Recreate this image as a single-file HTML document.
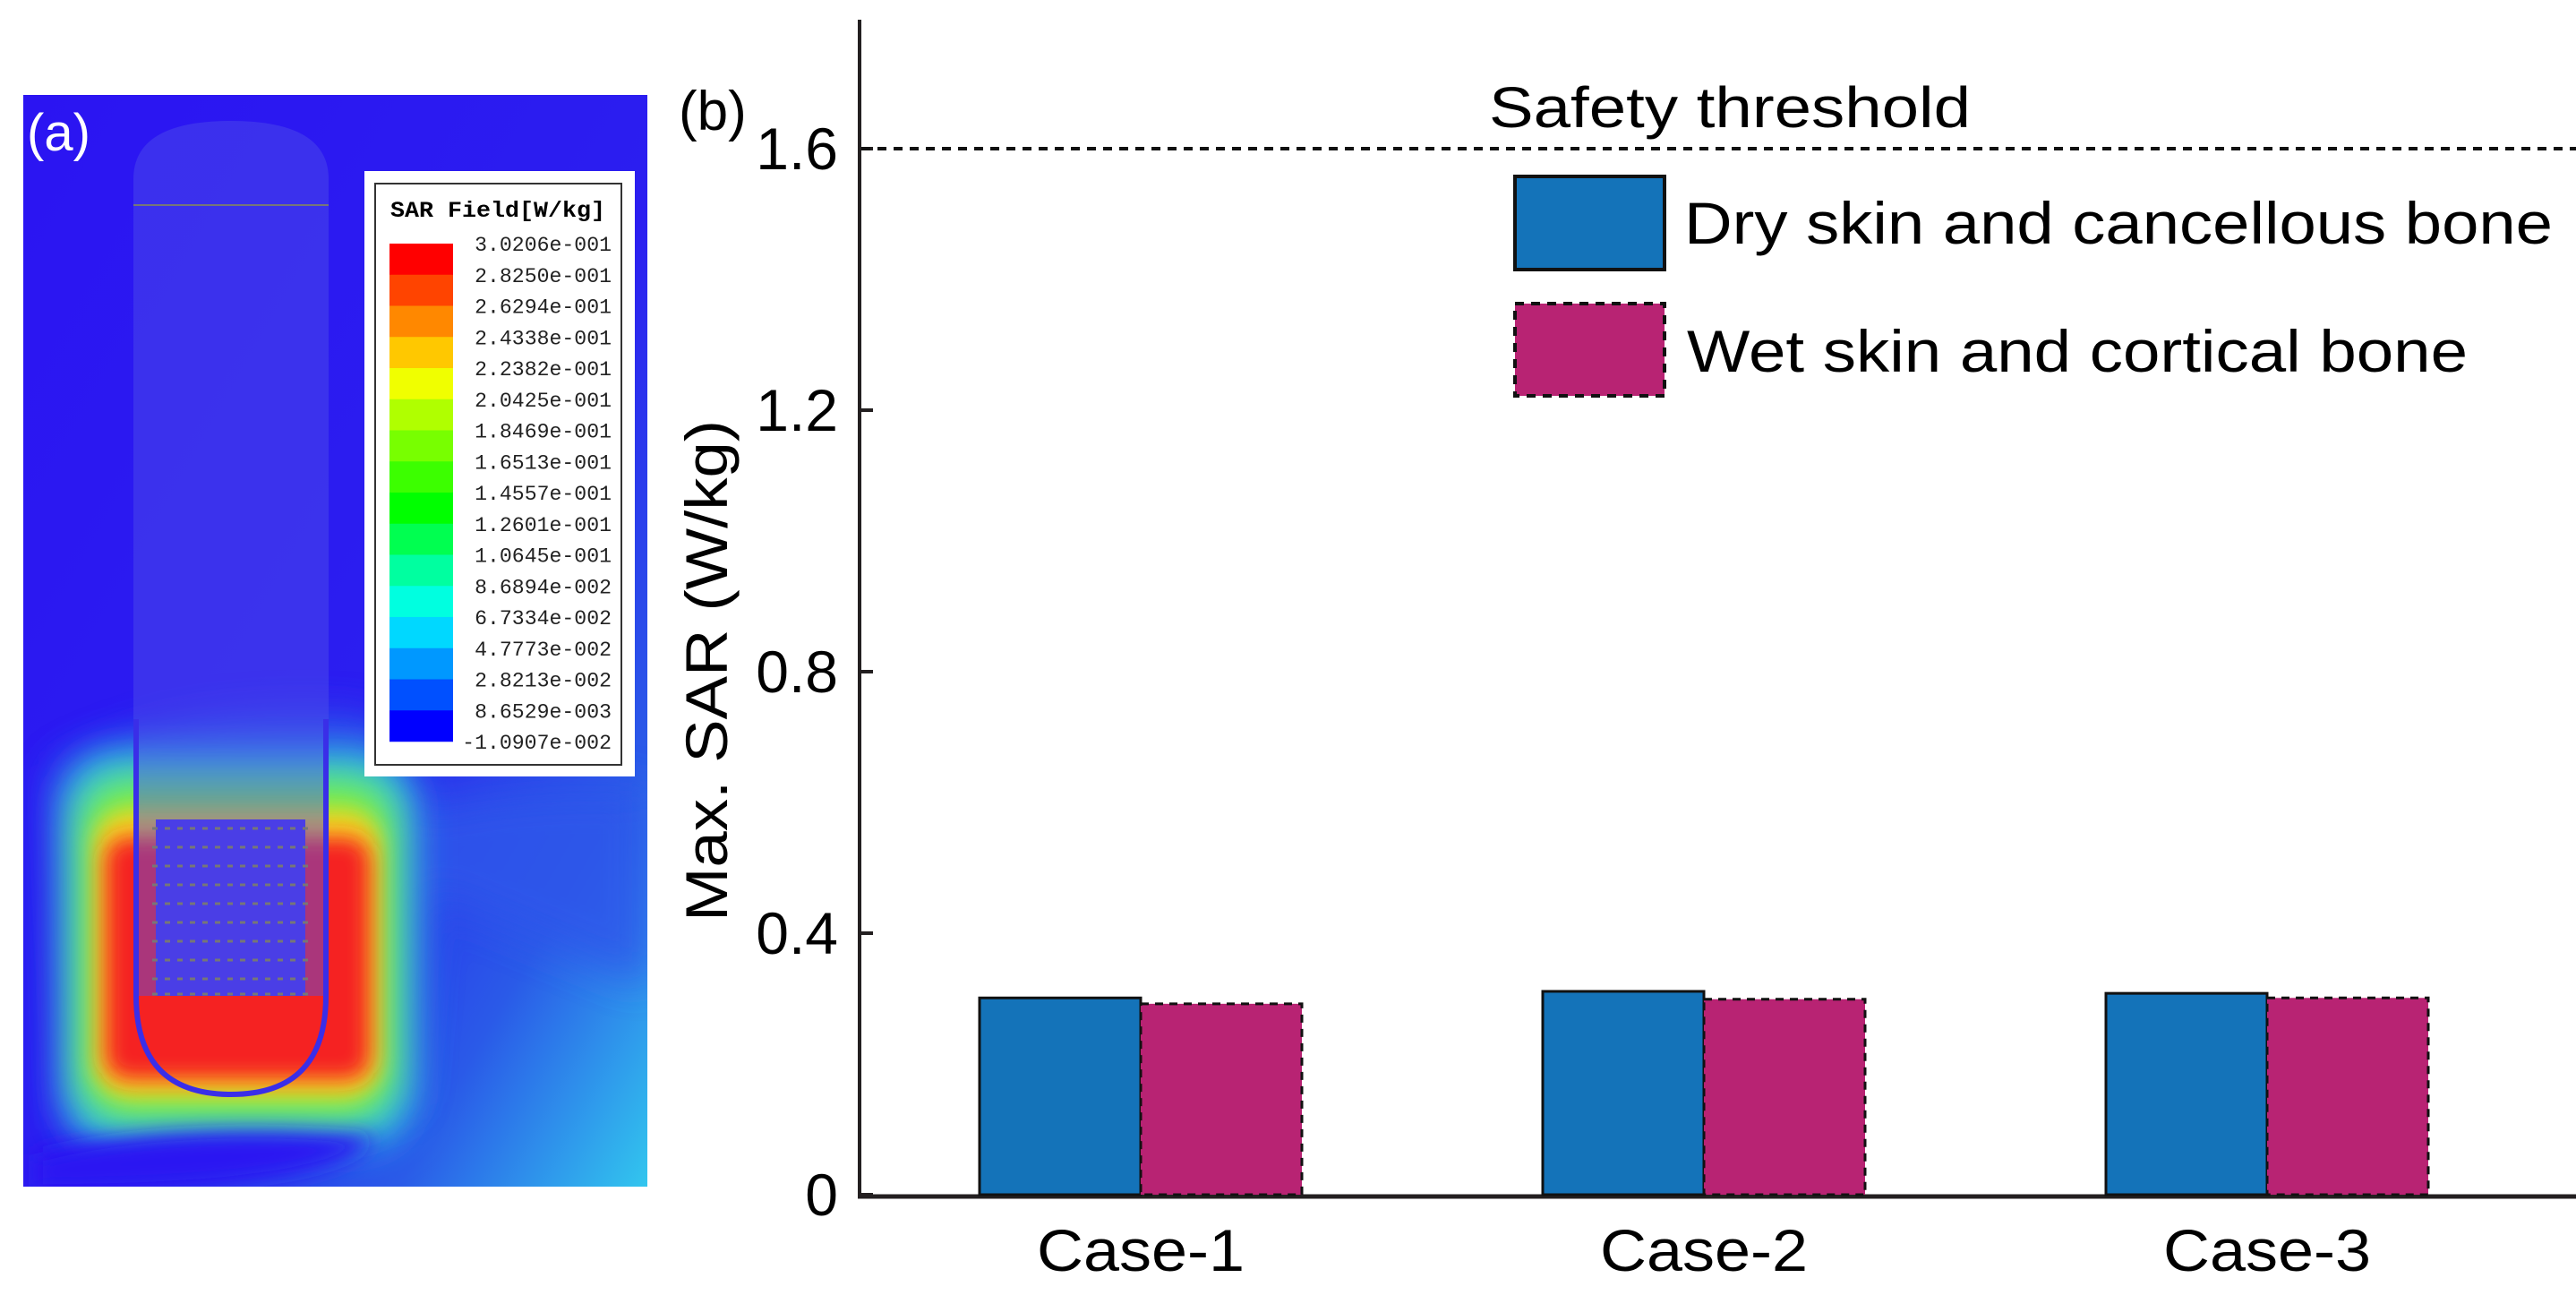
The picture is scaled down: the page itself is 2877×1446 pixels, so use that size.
<!DOCTYPE html>
<html><head><meta charset="utf-8"><style>
html,body{margin:0;padding:0;background:#fff;width:2877px;height:1446px;overflow:hidden}
svg{display:block}
text{font-family:"Liberation Sans",sans-serif}
text.mono{font-family:"Liberation Mono",monospace}
</style></head><body>
<svg id="fig" width="2877" height="1446" viewBox="0 0 2877 1446" xmlns="http://www.w3.org/2000/svg">
<defs>
<linearGradient id="bg" x1="0" y1="0" x2="1" y2="1">
<stop offset="0" stop-color="#2b14f2"/><stop offset="0.55" stop-color="#2b1ef0"/><stop offset="0.8" stop-color="#2a5ae8"/><stop offset="1" stop-color="#32c6ee"/></linearGradient>
<filter id="b1" x="-50%" y="-50%" width="200%" height="200%"><feGaussianBlur stdDeviation="22"/></filter>
<filter id="b2" x="-50%" y="-50%" width="200%" height="200%"><feGaussianBlur stdDeviation="12"/></filter>
<clipPath id="pc"><rect x="26" y="106" width="697" height="1219"/></clipPath>
</defs>

<g clip-path="url(#pc)">
<rect x="26" y="106" width="697" height="1219" fill="url(#bg)"/>
<path d="M60 860 Q200 780 420 800 L470 900 Q600 870 723 880 L723 1100 Q600 1050 480 1000 L460 1230 Q300 1300 80 1260 Z" fill="#2e56ea" filter="url(#b1)" opacity="0.8"/>
<rect x="70" y="840" width="390" height="440" rx="60" fill="#29c9e8" filter="url(#b1)"/>
<rect x="90" y="870" width="350" height="380" rx="50" fill="#7ef040" filter="url(#b1)"/>
<rect x="105" y="905" width="320" height="320" rx="40" fill="#f7d020" filter="url(#b2)"/>
<rect x="118" y="935" width="295" height="270" rx="25" fill="#f52222" filter="url(#b2)"/>
<path d="M40 1290 Q200 1250 420 1270 Q380 1330 40 1330 Z" fill="#2b14f2" filter="url(#b2)"/>
<path d="M149 229 L149 200 Q149 135 258 135 Q367 135 367 200 L367 1112 L149 1112 Z" fill="#5050e8" opacity="0.45"/>
<line x1="149" y1="229" x2="367" y2="229" stroke="#777" stroke-width="2"/>
<path d="M152 803 L152 1112 Q152 1222 258 1222 Q364 1222 364 1112 L364 803" fill="none" stroke="#3a2ee8" stroke-width="6"/>
<rect x="174" y="915" width="167" height="197" fill="#4a3ee6"/>
<g stroke="#777" stroke-width="3" stroke-dasharray="6 8">
<line x1="170" y1="925" x2="346" y2="925"/><line x1="170" y1="946" x2="346" y2="946"/><line x1="170" y1="967" x2="346" y2="967"/><line x1="170" y1="988" x2="346" y2="988"/><line x1="170" y1="1009" x2="346" y2="1009"/><line x1="170" y1="1030" x2="346" y2="1030"/><line x1="170" y1="1051" x2="346" y2="1051"/><line x1="170" y1="1072" x2="346" y2="1072"/><line x1="170" y1="1093" x2="346" y2="1093"/><line x1="170" y1="1110" x2="346" y2="1110"/>
</g>
<text x="30" y="168" font-size="58" fill="#fff">(a)</text>
<g>
<rect x="407" y="191" width="302" height="676" fill="#fff"/>
<rect x="419" y="205" width="275" height="649" fill="none" stroke="#333" stroke-width="2"/>
<text class="mono" x="436" y="242" font-size="25" font-weight="bold" textLength="240" lengthAdjust="spacingAndGlyphs">SAR Field[W/kg]</text>
<g id="swatches"></g>
<g id="slabels"></g>
</g>
</g>

<g>
<text x="758" y="145" font-size="62">(b)</text>
<line x1="960" y1="22" x2="960" y2="1337" stroke="#231f20" stroke-width="4"/>
<line x1="958" y1="1336" x2="2877" y2="1336" stroke="#231f20" stroke-width="5"/>
<g id="yticks"></g>
<g id="bars"></g>
<g id="xlabels"></g>
<line id="thresh" x1="962" x2="2877" stroke="#111" stroke-width="4" stroke-dasharray="10 8"/>
<text x="1932" y="142" font-size="64" text-anchor="middle" textLength="538" lengthAdjust="spacingAndGlyphs">Safety threshold</text>
<text transform="translate(812,749) rotate(-90)" font-size="66" text-anchor="middle" textLength="560" lengthAdjust="spacingAndGlyphs">Max. SAR (W/kg)</text>
<g>
<rect x="1692" y="197" width="167" height="104" fill="#1473b9" stroke="#111" stroke-width="4"/>
<text x="1881" y="272" font-size="66" textLength="970" lengthAdjust="spacingAndGlyphs">Dry skin and cancellous bone</text>
<rect x="1692" y="339" width="167" height="103" fill="#b82373" stroke="#111" stroke-width="4" stroke-dasharray="10 8"/>
<text x="1884" y="415" font-size="66" textLength="872" lengthAdjust="spacingAndGlyphs">Wet skin and cortical bone</text>
</g>
</g>
</svg>
<script>
const categories = ["Case-1","Case-2","Case-3"];
const dryValues = [0.301, 0.311, 0.308];
const wetValues = [0.292, 0.299, 0.301];
const yTickValues = [0, 0.4, 0.8, 1.2, 1.6];
const yTickLabels = ["0","0.4","0.8","1.2","1.6"];
const threshold = 1.6;
const scaleColors = ["#ff0000","#ff4400","#ff8800","#ffc800","#f0ff00","#b0ff00","#78ff00","#3cff00","#00ff00","#00ff50","#00ffa0","#00ffe0","#00d8ff","#0098ff","#0050ff","#0000ff"];
const scaleLabels = ["3.0206e-001","2.8250e-001","2.6294e-001","2.4338e-001","2.2382e-001","2.0425e-001","1.8469e-001","1.6513e-001","1.4557e-001","1.2601e-001","1.0645e-001","8.6894e-002","6.7334e-002","4.7773e-002","2.8213e-002","8.6529e-003","-1.0907e-002"];

const NS = "http://www.w3.org/2000/svg";
function y(v){ return 1334 - v*730; }
function groupCenter(i){ return 1274 + i*629; }
const BW = 180;
function mk(tag, attrs, parent){ const e=document.createElementNS(NS,tag); for(const k in attrs) e.setAttribute(k,attrs[k]); parent.appendChild(e); return e; }

const sw = document.getElementById('swatches');
scaleColors.forEach((c,i)=>{
  const r = mk('rect',{x:435,y:272+i*34.75,width:71,height:35,fill:c},sw);
  
  
});
const sl = document.getElementById('slabels');
scaleLabels.forEach((t,i)=>{
  const w = t.length*13.9;
  const e = mk('text',{class:'mono',x:683-w,y:280+i*34.75,'font-size':23,textLength:w,lengthAdjust:'spacingAndGlyphs',fill:'#222'},sl);
  e.textContent=t;
  
  
});

const yt = document.getElementById('yticks');
yTickValues.forEach((v,i)=>{
  const l = mk('line',{x1:960,x2:975,y1:y(v),y2:y(v),stroke:'#231f20','stroke-width':4},yt);
  
  
  const t = mk('text',{x:936,y:y(v)+23,'text-anchor':'end','font-size':66},yt);
  t.textContent = yTickLabels[i];
  
  
});

const bg = document.getElementById('bars');
categories.forEach((c,i)=>{
  const cx = groupCenter(i);
  const d = mk('rect',{x:cx-BW,y:y(dryValues[i]),width:BW,height:y(0)-y(dryValues[i]),fill:'#1473b9',stroke:'#111','stroke-width':3},bg);
  
  
  const w = mk('rect',{x:cx,y:y(wetValues[i]),width:BW,height:y(0)-y(wetValues[i]),fill:'#b82373',stroke:'#111','stroke-width':3,'stroke-dasharray':'9 7'},bg);
  
  
});

const xl = document.getElementById('xlabels');
categories.forEach((c,i)=>{
  const t = mk('text',{x:groupCenter(i),y:1419,'text-anchor':'middle','font-size':66,textLength:232,lengthAdjust:'spacingAndGlyphs'},xl);
  t.textContent = c;
  
  
});

const th = document.getElementById('thresh');
th.setAttribute('y1', y(threshold));
th.setAttribute('y2', y(threshold));
</script>
</body></html>
